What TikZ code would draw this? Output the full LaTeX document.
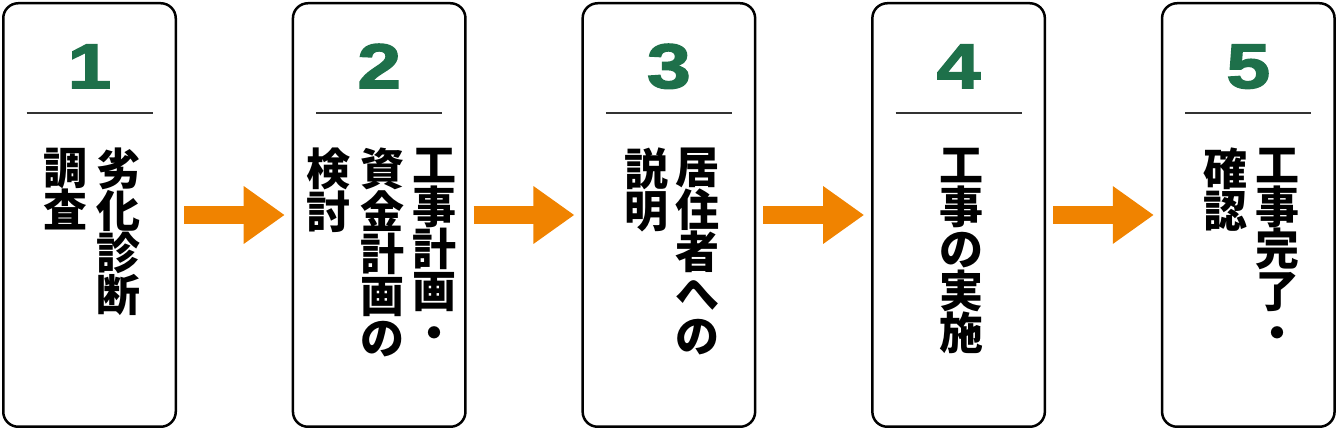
\documentclass[tikz,border=0pt]{standalone}
\usepackage{fontspec}
\newfontfamily\jpfont{Noto Sans CJK JP}
\newfontfamily\numfont{Liberation Sans}[FakeStretch=1.25, BoldFeatures={FakeBold=2.5}]
\usetikzlibrary{arrows.meta, positioning}
\definecolor{stepgreen}{RGB}{30,112,74}
\definecolor{floworange}{RGB}{240,131,0}

\begin{document}
\begin{tikzpicture}[x=1pt, y=1pt,
  box/.style={draw, line width=2.5pt, rounded corners=15pt, minimum width=172.5pt, minimum height=423.5pt, inner sep=0pt},
  num/.style={anchor=base, text=stepgreen, inner sep=0pt, font=\numfont\bfseries\fontsize{63}{63}\selectfont},
  rule/.style={line width=1.5pt, black!80},
  col/.style={anchor=north, align=center, inner sep=0pt, font=\jpfont\bfseries\fontsize{44}{42}\selectfont},
  flow/.style={floworange, line width=18pt, -{Triangle[length=41pt, width=55pt]}, shorten <=7pt, shorten >=7pt}]
  \useasboundingbox (0,0) rectangle (1340,430);
  % boxes
  \node[box] (b1) at (89.5,215) {};
  \node[box, right=114.7pt of b1] (b2) {};
  \node[box, right=114.7pt of b2] (b3) {};
  \node[box, right=114.7pt of b3] (b4) {};
  \node[box, right=114.7pt of b4] (b5) {};
  % numbers
  \node[num] (n1) at ([yshift=-86pt]b1.north) {1};
  \node[num] (n2) at ([yshift=-86pt]b2.north) {2};
  \node[num] (n3) at ([yshift=-86pt]b3.north) {3};
  \node[num] (n4) at ([yshift=-86pt]b4.north) {4};
  \node[num] (n5) at ([yshift=-86pt]b5.north) {5};
  \draw[rule] ([shift={(-63pt,-111pt)}]b1.north) -- ([shift={(63pt,-111pt)}]b1.north);
  \draw[rule] ([shift={(-63pt,-111pt)}]b2.north) -- ([shift={(63pt,-111pt)}]b2.north);
  \draw[rule] ([shift={(-63pt,-111pt)}]b3.north) -- ([shift={(63pt,-111pt)}]b3.north);
  \draw[rule] ([shift={(-63pt,-111pt)}]b4.north) -- ([shift={(63pt,-111pt)}]b4.north);
  \draw[rule] ([shift={(-63pt,-111pt)}]b5.north) -- ([shift={(63pt,-111pt)}]b5.north);
  % vertical texts, right column first
  \node[col] (t1a) at ([shift={(28.5pt,-146pt)}]b1.north) {劣\\化\\診\\断};
  \node[col] (t1b) at ([shift={(-24pt,-146pt)}]b1.north) {調\\査};
  \node[col] (t2a) at ([shift={(55pt,-146pt)}]b2.north) {工\\事\\計\\画\\・};
  \node[col] (t2b) at ([shift={(3pt,-146pt)}]b2.north) {資\\金\\計\\画\\の};
  \node[col] (t2c) at ([shift={(-51pt,-146pt)}]b2.north) {検\\討};
  \node[col] (t3a) at ([shift={(28.5pt,-146pt)}]b3.north) {居\\住\\者\\へ\\の};
  \node[col] (t3b) at ([shift={(-22.5pt,-146pt)}]b3.north) {説\\明};
  \node[col] (t4a) at ([shift={(3pt,-146pt)}]b4.north) {工\\事\\の\\実\\施};
  \node[col] (t5a) at ([shift={(29pt,-146pt)}]b5.north) {工\\事\\完\\了\\・};
  \node[col] (t5b) at ([shift={(-23pt,-146pt)}]b5.north) {確\\認};
  % arrows
  \draw[flow] (b1) -- (b2);
  \draw[flow] (b2) -- (b3);
  \draw[flow] (b3) -- (b4);
  \draw[flow] (b4) -- (b5);
\end{tikzpicture}
\end{document}
